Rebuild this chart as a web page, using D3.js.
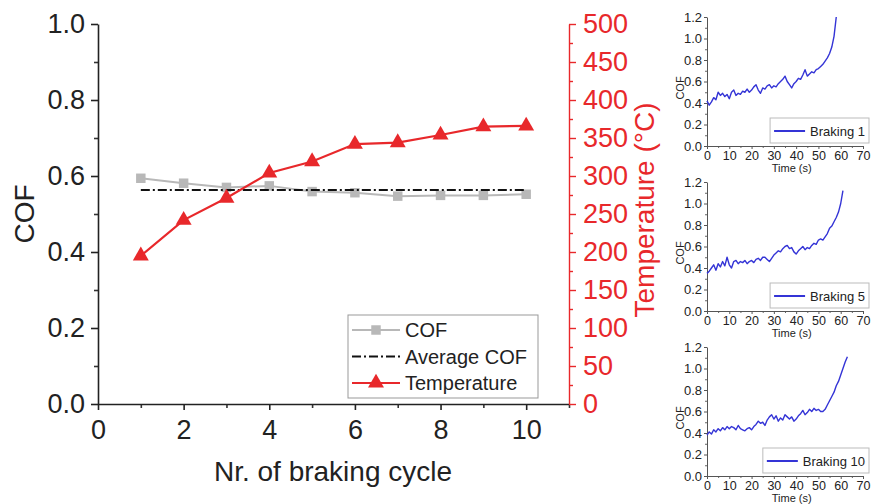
<!DOCTYPE html>
<html>
<head>
<meta charset="utf-8">
<script src="https://cdn.jsdelivr.net/npm/d3@7"></script>
<style>
body { margin: 0; background: #fff; }
text { font-family: Arial, "Liberation Sans", sans-serif; }
</style>
</head>
<body>
<script>
// main chart data
var cycles = [1, 2, 3, 4, 5, 6, 7, 8, 9, 10];
var cof = [0.594, 0.581, 0.570, 0.574, 0.559, 0.556, 0.547, 0.549, 0.549, 0.552];
var temperature = [195, 242, 271, 304, 319, 342, 344, 354, 365, 366];

var cycleTicks = [0, 2, 4, 6, 8, 10];
var cycleMinor = [1, 3, 5, 7, 9, 11];
var cofTicks = [0, 0.2, 0.4, 0.6, 0.8, 1.0];
var cofMinor = [0.1, 0.3, 0.5, 0.7, 0.9];
var tempTicks = [0, 50, 100, 150, 200, 250, 300, 350, 400, 450, 500];
var tempMinor = [25, 75, 125, 175, 225, 275, 325, 375, 425, 475];

var legendLabels = ["COF", "Average COF", "Temperature"];

// inset data: one COF reading per second, starting at t = 0 s
var brakingLabels = ["Braking 1", "Braking 5", "Braking 10"];
var braking1 = [0.42, 0.38, 0.41, 0.45, 0.43, 0.50, 0.47, 0.49, 0.46, 0.48,
                0.44, 0.50, 0.52, 0.47, 0.49, 0.48, 0.51, 0.50, 0.53, 0.50,
                0.52, 0.55, 0.57, 0.52, 0.49, 0.54, 0.53, 0.56, 0.57, 0.54,
                0.56, 0.55, 0.58, 0.60, 0.62, 0.65, 0.60, 0.57, 0.54, 0.58,
                0.60, 0.63, 0.62, 0.66, 0.71, 0.65, 0.67, 0.69, 0.68, 0.71,
                0.72, 0.74, 0.76, 0.79, 0.82, 0.86, 0.92, 1.02, 1.20];
var braking5 = [0.35, 0.37, 0.40, 0.43, 0.38, 0.44, 0.41, 0.46, 0.42, 0.50,
                0.43, 0.40, 0.46, 0.47, 0.44, 0.46, 0.45, 0.47, 0.44, 0.46,
                0.47, 0.45, 0.48, 0.49, 0.47, 0.50, 0.50, 0.48, 0.46, 0.49,
                0.52, 0.54, 0.56, 0.55, 0.58, 0.60, 0.61, 0.58, 0.59, 0.55,
                0.53, 0.56, 0.58, 0.60, 0.57, 0.59, 0.58, 0.61, 0.63, 0.62,
                0.66, 0.67, 0.66, 0.69, 0.72, 0.77, 0.79, 0.83, 0.87, 0.92,
                1.00, 1.12];
var braking10 = [0.38, 0.41, 0.39, 0.43, 0.41, 0.44, 0.42, 0.45, 0.43, 0.46,
                 0.44, 0.46, 0.45, 0.43, 0.47, 0.44, 0.43, 0.42, 0.44, 0.45,
                 0.43, 0.46, 0.48, 0.51, 0.49, 0.50, 0.47, 0.52, 0.55, 0.57,
                 0.53, 0.56, 0.51, 0.54, 0.52, 0.57, 0.55, 0.53, 0.55, 0.51,
                 0.53, 0.56, 0.58, 0.61, 0.57, 0.59, 0.62, 0.60, 0.63, 0.61,
                 0.62, 0.60, 0.60, 0.62, 0.66, 0.70, 0.74, 0.78, 0.84, 0.88,
                 0.94, 1.00, 1.06, 1.11];
var insetTimeTicks = [0, 10, 20, 30, 40, 50, 60, 70];
var insetTimeMinor = [5, 15, 25, 35, 45, 55, 65];
var insetCofTicks = [0, 0.2, 0.4, 0.6, 0.8, 1.0, 1.2];
var insetCofMinor = [0.1, 0.3, 0.5, 0.7, 0.9, 1.1];

var red = "#e8282b", gray = "#b8b8b8", ink = "#222", blue = "#3434d6";

var width = 874, height = 504;

var svg = d3.select("body").append("svg")
    .attr("width", width)
    .attr("height", height);

svg.append("rect")
    .attr("width", width)
    .attr("height", height)
    .style("fill", "white");

// ---------- main chart ----------
var x = d3.scaleLinear().domain([0, 11]).range([98, 569]);
var yCof = d3.scaleLinear().domain([0, 1]).range([404, 24]);
var yTemp = d3.scaleLinear().domain([0, 500]).range([404, 24]);

function styleAxis(g, color, fontSize, lw) {
    g.attr("font-family", null).attr("font-size", null);
    g.select(".domain").style("stroke", color).style("stroke-width", lw);
    g.selectAll(".tick line").style("stroke", color).style("stroke-width", lw);
    g.selectAll(".tick text").style("fill", color).style("font-size", fontSize + "px");
}

function minorAxis(g, color, lw) {
    g.attr("font-family", null);
    g.select(".domain").remove();
    g.selectAll(".tick line").style("stroke", color).style("stroke-width", lw);
}

var main = svg.append("g");

main.append("g")
    .attr("transform", "translate(0,404)")
    .call(d3.axisBottom(x).tickValues(cycleMinor).tickSize(4).tickSizeOuter(0).tickFormat(""))
    .call(minorAxis, "#333", 1.6);
main.append("g")
    .attr("transform", "translate(0,404)")
    .call(d3.axisBottom(x).tickValues(cycleTicks).tickSize(6).tickSizeOuter(0).tickPadding(10))
    .call(styleAxis, ink, 27, 1.6);

main.append("g")
    .attr("transform", "translate(98,0)")
    .call(d3.axisLeft(yCof).tickValues(cofMinor).tickSize(4).tickSizeOuter(0).tickFormat(""))
    .call(minorAxis, "#333", 1.6);
main.append("g")
    .attr("transform", "translate(98,0)")
    .call(d3.axisLeft(yCof).tickValues(cofTicks).tickSize(7).tickSizeOuter(0).tickPadding(6)
        .tickFormat(d3.format(".1f")))
    .call(styleAxis, ink, 27, 1.6);

main.append("g")
    .attr("transform", "translate(569,0)")
    .call(d3.axisRight(yTemp).tickValues(tempMinor).tickSize(4).tickSizeOuter(0).tickFormat(""))
    .call(minorAxis, red, 1.4);
main.append("g")
    .attr("transform", "translate(569,0)")
    .call(d3.axisRight(yTemp).tickValues(tempTicks).tickSize(7).tickSizeOuter(0).tickPadding(7))
    .call(styleAxis, red, 27, 1.4);

// axis titles
main.append("text")
    .attr("transform", "translate(34,214) rotate(-90)")
    .attr("text-anchor", "middle")
    .style("font-size", "28px")
    .style("fill", ink)
    .text("COF");

main.append("text")
    .attr("transform", "translate(654,210) rotate(-90)")
    .attr("text-anchor", "middle")
    .style("font-size", "28px")
    .style("fill", red)
    .text("Temperature (°C)");

main.append("text")
    .attr("x", 333)
    .attr("y", 481)
    .attr("text-anchor", "middle")
    .style("font-size", "28px")
    .style("fill", ink)
    .text("Nr. of braking cycle");

// series
var cofData = cycles.map((c, i) => ({c: c, v: cof[i]}));
var tempData = cycles.map((c, i) => ({c: c, v: temperature[i]}));
var avgCof = d3.mean(cof);

main.append("path")
    .datum(cofData)
    .attr("d", d3.line().x(d => x(d.c)).y(d => yCof(d.v)))
    .style("fill", "none")
    .style("stroke", gray)
    .style("stroke-width", 2);

main.selectAll(".cofpt")
    .data(cofData)
    .enter().append("path")
    .attr("class", "cofpt")
    .attr("transform", d => "translate(" + x(d.c) + "," + yCof(d.v) + ")")
    .attr("d", d3.symbol().type(d3.symbolSquare).size(90))
    .style("fill", gray);

main.append("line")
    .attr("x1", x(cycles[0]))
    .attr("x2", x(cycles[cycles.length - 1]))
    .attr("y1", yCof(avgCof))
    .attr("y2", yCof(avgCof))
    .style("stroke", "#111")
    .style("stroke-width", 2)
    .style("stroke-dasharray", "9,3,2,3");

main.append("path")
    .datum(tempData)
    .attr("d", d3.line().x(d => x(d.c)).y(d => yTemp(d.v)))
    .style("fill", "none")
    .style("stroke", red)
    .style("stroke-width", 2.2);

main.selectAll(".temppt")
    .data(tempData)
    .enter().append("path")
    .attr("class", "temppt")
    .attr("transform", d => "translate(" + x(d.c) + "," + yTemp(d.v) + ")")
    .attr("d", d3.symbol().type(d3.symbolTriangle).size(110))
    .style("fill", red);

// legend
var legend = main.append("g");
legend.append("rect")
    .attr("x", 348).attr("y", 315)
    .attr("width", 190).attr("height", 83)
    .style("fill", "white")
    .style("stroke", "#999")
    .style("stroke-width", 1);

var legendY = d3.scalePoint().domain(legendLabels).range([330, 383]);

legend.append("line")
    .attr("x1", 352).attr("x2", 400)
    .attr("y1", legendY("COF")).attr("y2", legendY("COF"))
    .style("stroke", gray).style("stroke-width", 2);
legend.append("path")
    .attr("transform", "translate(376," + legendY("COF") + ")")
    .attr("d", d3.symbol().type(d3.symbolSquare).size(90))
    .style("fill", gray);

legend.append("line")
    .attr("x1", 352).attr("x2", 400)
    .attr("y1", legendY("Average COF")).attr("y2", legendY("Average COF"))
    .style("stroke", "#111").style("stroke-width", 2)
    .style("stroke-dasharray", "9,3,2,3");

legend.append("line")
    .attr("x1", 352).attr("x2", 400)
    .attr("y1", legendY("Temperature")).attr("y2", legendY("Temperature"))
    .style("stroke", red).style("stroke-width", 2.2);
legend.append("path")
    .attr("transform", "translate(376," + legendY("Temperature") + ")")
    .attr("d", d3.symbol().type(d3.symbolTriangle).size(110))
    .style("fill", red);

legend.selectAll(".ltext")
    .data(legendLabels)
    .enter().append("text")
    .attr("x", 405)
    .attr("y", d => legendY(d) + 7)
    .style("font-size", "20px")
    .style("fill", ink)
    .text(d => d);

// ---------- insets ----------
var insetSeries = [braking1, braking5, braking10];

insetSeries.forEach((series, i) => {
    var top = 17 + 165 * i, bottom = 146 + 165 * i;
    var xIn = d3.scaleLinear().domain([0, 70]).range([707, 863]);
    var yIn = d3.scaleLinear().domain([0, 1.2]).range([bottom, top]);
    var g = svg.append("g");

    g.append("g")
        .attr("transform", "translate(0," + bottom + ")")
        .call(d3.axisBottom(xIn).tickValues(insetTimeMinor).tickSize(2).tickSizeOuter(0).tickFormat(""))
        .call(minorAxis, "#666", 1);
    g.append("g")
        .attr("transform", "translate(0," + bottom + ")")
        .call(d3.axisBottom(xIn).tickValues(insetTimeTicks).tickSize(3).tickSizeOuter(0).tickPadding(2))
        .call(styleAxis, "#555", 12.5, 1);
    g.append("g")
        .attr("transform", "translate(707,0)")
        .call(d3.axisLeft(yIn).tickValues(insetCofMinor).tickSize(2).tickSizeOuter(0).tickFormat(""))
        .call(minorAxis, "#666", 1);
    g.append("g")
        .attr("transform", "translate(707,0)")
        .call(d3.axisLeft(yIn).tickValues(insetCofTicks).tickSize(3).tickSizeOuter(0).tickPadding(2)
            .tickFormat(d3.format(".1f")))
        .call(styleAxis, "#555", 13, 1);
    g.selectAll(".tick text").style("fill", ink);

    g.append("text")
        .attr("transform", "translate(684," + (bottom - 58) + ") rotate(-90)")
        .attr("text-anchor", "middle")
        .style("font-size", "11px")
        .style("fill", ink)
        .text("COF");
    g.append("text")
        .attr("x", xIn(38))
        .attr("y", bottom + 26)
        .attr("text-anchor", "middle")
        .style("font-size", "11px")
        .style("fill", ink)
        .text("Time (s)");

    g.append("path")
        .datum(series)
        .attr("d", d3.line().x((d, t) => xIn(t)).y(d => yIn(d)))
        .style("fill", "none")
        .style("stroke", blue)
        .style("stroke-width", 1.4)
        .style("stroke-linejoin", "round");

    // legend box
    var lg = g.append("g");
    var box = lg.append("rect")
        .style("fill", "white")
        .style("stroke", "#bbb")
        .style("stroke-width", 1);
    var label = lg.append("text")
        .attr("y", bottom - 10)
        .style("font-size", "13px")
        .style("fill", ink)
        .text(brakingLabels[i]);
    var tw = label.node().getComputedTextLength();
    var right = 869;
    var textX = right - 4 - tw;
    label.attr("x", textX);
    box.attr("x", textX - 40).attr("y", bottom - 28)
        .attr("width", tw + 44).attr("height", 25);
    lg.append("line")
        .attr("x1", textX - 36).attr("x2", textX - 5)
        .attr("y1", bottom - 15).attr("y2", bottom - 15)
        .style("stroke", blue).style("stroke-width", 2);
});
</script>
</body>
</html>
